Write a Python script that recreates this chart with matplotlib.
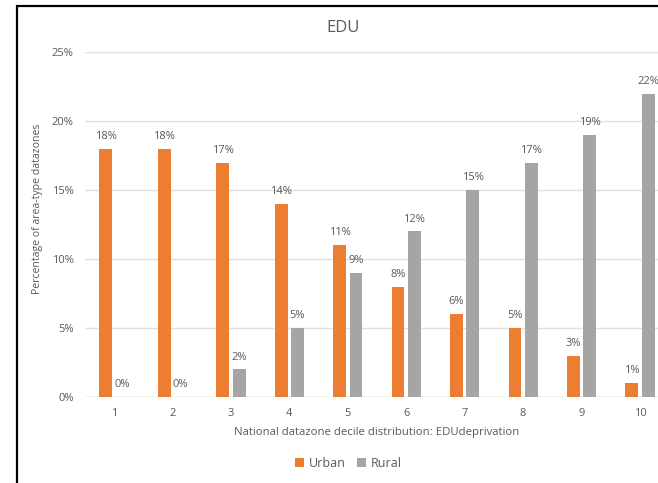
import matplotlib.pyplot as plt
import numpy as np
from matplotlib.patches import Rectangle

plt.rcParams['font.family'] = ['Open Sans', 'DejaVu Sans']

# Share of datazones per national EDU deprivation decile
deciles = ['1', '2', '3', '4', '5', '6', '7', '8', '9', '10']
urban = [18, 18, 17, 14, 11, 8, 6, 5, 3, 1]
rural = [0, 0, 2, 5, 9, 12, 15, 17, 19, 22]

orange = '#ED7D31'
grey = '#A5A5A5'
txt = '#595959'

fig = plt.figure(figsize=(6.58, 4.83), dpi=100)
ax = fig.add_axes([0.129, 0.178, 0.888, 0.714])

x = np.arange(len(deciles))
w = 0.22
off = 0.14
b1 = ax.bar(x - off, urban, w, color=orange, label='Urban', zorder=3)
b2 = ax.bar(x + off, rural, w, color=grey, label='Rural', zorder=3)

for bars, vals in [(b1, urban), (b2, rural)]:
    for b, v in zip(bars, vals):
        ax.text(b.get_x() + b.get_width() / 2, v + 0.5, f'{v}%',
                ha='center', va='bottom', fontsize=8, color=txt)

ax.set_xlim(-0.5, 9.5)
ax.set_ylim(0, 25)
ax.set_yticks([0, 5, 10, 15, 20, 25])
ax.set_yticklabels([f'{t}%' for t in [0, 5, 10, 15, 20, 25]])
ax.set_xticks(x)
ax.set_xticklabels(deciles)
ax.tick_params(length=0, labelsize=8, colors=txt, pad=8)
ax.grid(axis='y', color='#E0E0E0', linewidth=1, zorder=0)
for s in ax.spines.values():
    s.set_visible(False)
ax.axhline(0, color='#D9D9D9', linewidth=1, zorder=2)

ax.set_xlabel('National datazone decile distribution: EDUdeprivation',
              fontsize=8.2, color=txt, labelpad=6)
ax.set_ylabel('Percentage of area-type datazones', fontsize=7.6, color=txt)
ax.yaxis.set_label_coords(-0.072, 0.545)
fig.text(0.521, 0.942, 'EDU', ha='center', va='center', fontsize=12, color=txt)

leg = fig.legend(handles=[b1, b2], loc='center', bbox_to_anchor=(0.53, 0.04),
                 ncol=2, frameon=False, fontsize=9, handlelength=0.7,
                 handleheight=0.7, columnspacing=0.9, handletextpad=0.4)
for t in leg.get_texts():
    t.set_color(txt)

# outer frame around the chart
fig.patches.append(Rectangle((17 / 658, -0.05), 1.0, 1 - 6 / 483 + 0.05,
                             transform=fig.transFigure, fill=False,
                             edgecolor='black', linewidth=1.6))

fig.savefig('out.png', dpi=100)
